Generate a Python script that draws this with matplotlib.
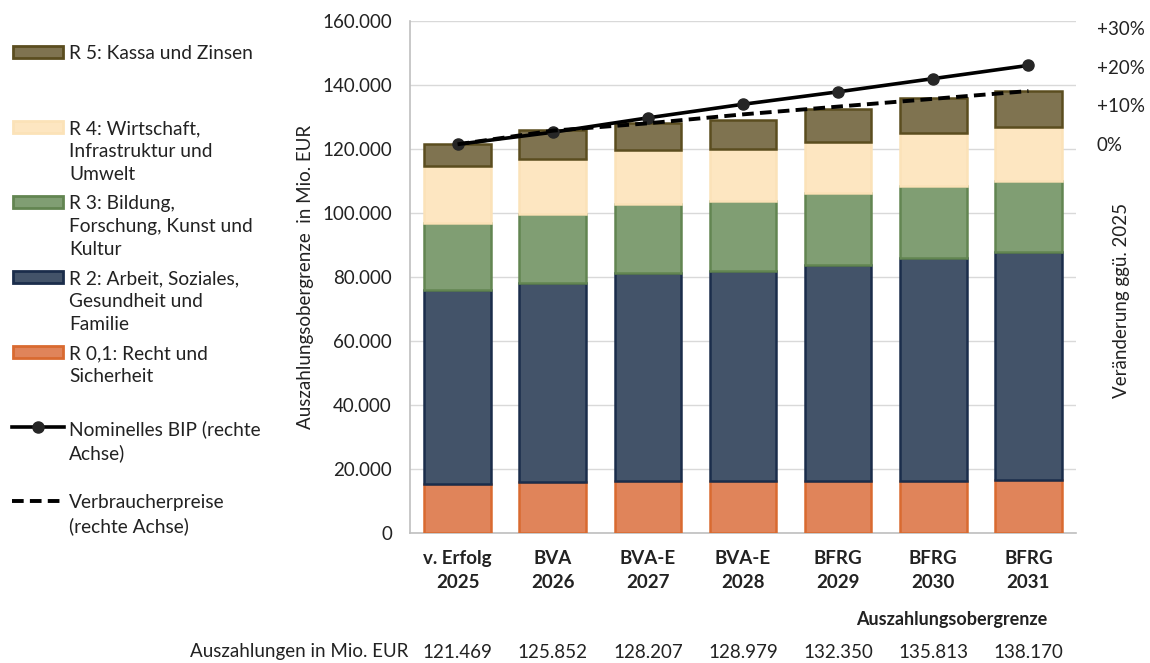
import matplotlib.pyplot as plt
from matplotlib.patches import Rectangle
from matplotlib.lines import Line2D
import numpy as np

# ---------------- Daten (Mio. EUR) ----------------
kategorien = ["v. Erfolg\n2025", "BVA\n2026", "BVA-E\n2027", "BVA-E\n2028",
              "BFRG\n2029", "BFRG\n2030", "BFRG\n2031"]
summe = np.array([121469, 125852, 128207, 128979, 132350, 135813, 138170])
r01 = np.array([15200, 15800, 16100, 16100, 16100, 16100, 16500])
r2 = np.array([60800, 62400, 65100, 65800, 67600, 69900, 71400])
r3 = np.array([21000, 21500, 21600, 22000, 22500, 22500, 22200])
r4 = np.array([17600, 17200, 16800, 16100, 16100, 16500, 16800])
r5 = summe - (r01 + r2 + r3 + r4)

# Veraenderung ggue. 2025 in %
bip = [0, 3.1, 6.8, 10.3, 13.5, 16.9, 20.3]
vpi = [0, 3.5, 5.4, 7.7, 9.7, 11.7, 13.7]

rechts_ticks = [0, 10, 20, 30]
rechts_labels = ["0%", "+10%", "+20%", "+30%"]

# ---------------- Stil ----------------
plt.rcParams['font.family'] = ['Lato', 'DejaVu Sans']
fs = 13.5
fs_leg = 13.8
txt = '#222222'

farben = {
    'r01': ('#e0845a', '#d96a30'),
    'r2': ('#435369', '#1b2d4b'),
    'r3': ('#809e73', '#628551'),
    'r4': ('#fde6c1', '#fbe2b8'),
    'r5': ('#7f7350', '#5b4d1f'),
}

W, H = 1150, 663
fig = plt.figure(figsize=(W / 100, H / 100), dpi=100)
ax = fig.add_axes([410 / W, 130 / H, 666 / W, 512 / H])

x = np.arange(len(kategorien))
breite = 0.7
unten = np.zeros(len(x))
for key, werte in [('r01', r01), ('r2', r2), ('r3', r3), ('r4', r4), ('r5', r5)]:
    fc, ec = farben[key]
    ax.bar(x, werte, breite, bottom=unten, color=fc, edgecolor=ec, linewidth=1.8, zorder=3)
    unten = unten + werte

ax.set_xlim(-0.5, len(x) - 0.5)
ax.set_ylim(0, 160000)
ax.set_yticks(np.arange(0, 160001, 20000))
ax.set_yticklabels(["0" if v == 0 else f"{v:,}".replace(",", ".") for v in range(0, 160001, 20000)])
ax.grid(axis='y', color='#d9d9d9', linewidth=1, zorder=0)
ax.set_axisbelow(True)
for s in ['top', 'right']:
    ax.spines[s].set_visible(False)
ax.spines['left'].set_color('#bfbfbf')
ax.spines['bottom'].set_color('#bfbfbf')
ax.spines['left'].set_linewidth(1.2)
ax.spines['bottom'].set_linewidth(1.2)
ax.tick_params(axis='y', length=0, pad=13, labelsize=fs, labelcolor=txt)
ax.tick_params(axis='x', length=0, pad=12)
ax.set_xticks(x)
ax.set_xticklabels(kategorien, fontsize=fs, fontweight='bold', color=txt, linespacing=1.5)

# rechte Achse: 0% = Summe 2025
ax2 = ax.twinx()
ax2.set_ylim(-100, 160000 / summe[0] * 100 - 100)
ax2.plot(x, bip, color='black', linewidth=2.6, marker='o', markersize=8,
         markerfacecolor='#262626', markeredgecolor='#262626', zorder=5)
ax2.plot(x, vpi, color='black', linewidth=2.8, linestyle=(0, (3, 1.6)), zorder=5)
ax2.set_yticks(rechts_ticks)
ax2.set_yticklabels(rechts_labels)
ax2.tick_params(axis='y', length=0, pad=15, labelsize=fs, labelcolor=txt)
for s in ax2.spines.values():
    s.set_visible(False)

# Achsentitel
fig.text(305 / W, 1 - 277 / H, "Auszahlungsobergrenze  in Mio. EUR", rotation=90,
         ha='center', va='center', fontsize=fs, color=txt)
fig.text(1122 / W, 1 - 300 / H, "Veränderung ggü. 2025", rotation=90,
         ha='center', va='center', fontsize=fs, color=txt)
fig.text(952 / W, 1 - 620 / H, "Auszahlungsobergrenze", ha='center', va='center',
         fontsize=fs - 0.5, fontweight='bold', color=txt)

# Zeile mit Summen
fig.text(408 / W, 1 - 652 / H, "Auszahlungen in Mio. EUR", ha='right', va='center',
         fontsize=fs, color=txt)
for xi, v in zip(x, summe):
    fig.text((410 + (xi + 0.5) * 666 / len(x)) / W, 1 - 652 / H, f"{v:,}".replace(",", "."),
             ha='center', va='center', fontsize=fs, color=txt)

# ---------------- Legende (links) ----------------
lg = fig.add_axes([0, 0, 1, 1], facecolor='none')
lg.set_xlim(0, W)
lg.set_ylim(H, 0)
lg.axis('off')

eintraege = [
    ('r5', "R 5: Kassa und Zinsen", 52),
    ('r4', "R 4: Wirtschaft,\nInfrastruktur und\nUmwelt", 127),
    ('r3', "R 3: Bildung,\nForschung, Kunst und\nKultur", 202),
    ('r2', "R 2: Arbeit, Soziales,\nGesundheit und\nFamilie", 277),
    ('r01', "R 0,1: Recht und\nSicherheit", 352),
]
for key, label, yc in eintraege:
    fc, ec = farben[key]
    lg.add_patch(Rectangle((13, yc - 6), 50, 12, facecolor=fc, edgecolor=ec, linewidth=2))
    lg.text(69, yc - 7, label, ha='left', va='top', fontsize=fs_leg, color=txt, linespacing=1.42)

lg.add_line(Line2D([12, 64], [427, 427], color='black', linewidth=2.6))
lg.plot([38], [427], marker='o', markersize=8, color='#262626')
lg.text(69, 427 - 7, "Nominelles BIP (rechte\nAchse)", ha='left', va='top', fontsize=fs_leg,
        color=txt, linespacing=1.42)
lg.add_line(Line2D([12, 64], [501, 501], color='black', linewidth=2.8, linestyle=(0, (3, 1.6))))
lg.text(69, 501 - 7, "Verbraucherpreise\n(rechte Achse)", ha='left', va='top', fontsize=fs_leg,
        color=txt, linespacing=1.42)

fig.savefig("out.png", dpi=100)
